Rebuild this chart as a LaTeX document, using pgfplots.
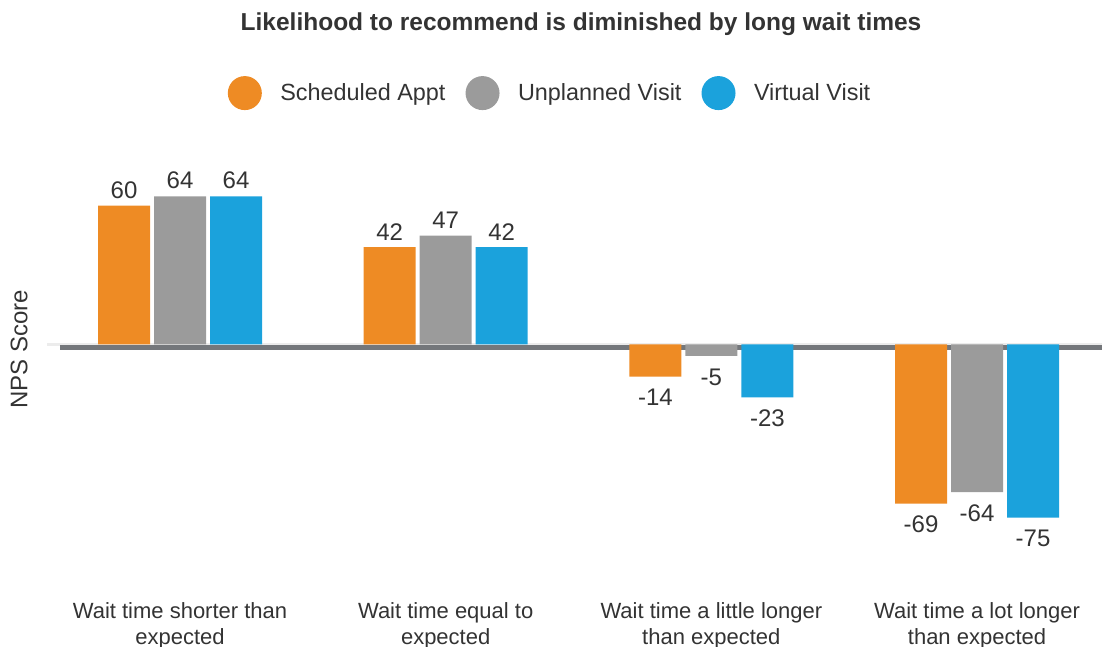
\documentclass[border=0pt]{standalone}
\usepackage{pgfplots}
\pgfplotsset{compat=1.18}
\usepackage{fontspec}
\setmainfont{Liberation Sans}
\definecolor{corange}{RGB}{238,139,36}
\definecolor{cgray}{RGB}{155,155,155}
\definecolor{cblue}{RGB}{27,162,220}
\definecolor{ctext}{RGB}{51,51,51}
\definecolor{cline}{RGB}{116,119,123}
\definecolor{clight}{RGB}{236,236,236}
\begin{document}
\begin{tikzpicture}
\begin{axis}[
  set layers,
  at={(60pt,62.5pt)}, anchor=south west,
  scale only axis, width=1042pt, height=443.5pt,
  xmin=-0.4517, xmax=3.4705, ymin=-104, ymax=88,
  ybar=4pt, bar width=52pt,
  legend image code/.code={\fill[#1] (0pt,0pt) circle (17pt); \path[fill=none, draw=none] (-17pt,-17pt) rectangle (35.5pt,17pt);},
  axis line style={draw=none},
  ytick=\empty,
  xtick={0,1,2,3},
  xticklabels={{Wait time shorter than\\expected},{Wait time equal to\\expected},{Wait time a little longer\\than expected},{Wait time a lot longer\\than expected}},
  xticklabel style={align=center, font=\fontsize{22}{26}\selectfont, text=ctext, yshift=-14.5pt},
  major tick length=0pt,
  nodes near coords,
  every node near coord/.append style={font=\fontsize{24}{28}\selectfont, text=ctext, inner ysep=7pt, text height=22pt},
  /pgf/number format/assume math mode=true,
  legend style={draw=none, fill=none, at={(0.4693,1.108)}, anchor=center, legend columns=3, font=\fontsize{23.4}{27}\selectfont, text=ctext, column sep=0pt, nodes={inner sep=0pt}, /tikz/every even column/.append style={column sep=20pt}},
  clip=false,
]
\begin{pgfonlayer}{axis background}
\draw[clight, line width=2.6pt] ([xshift=-13pt]axis cs:-0.4517,0) -- (axis cs:3.4705,0);
\draw[cline, line width=4.5pt] ([yshift=-3.4pt]axis cs:-0.4517,0) -- ([yshift=-3.4pt]axis cs:3.4705,0);
\end{pgfonlayer}
\addplot[fill=corange, draw=none] coordinates {(0,60) (1,42) (2,-14) (3,-69)};
\addplot[fill=cgray, draw=none] coordinates {(0,64) (1,47) (2,-5) (3,-64)};
\addplot[fill=cblue, draw=none] coordinates {(0,64) (1,42) (2,-23) (3,-75)};
\legend{Scheduled Appt, Unplanned Visit, Virtual Visit}
\end{axis}
\node[font=\bfseries\fontsize{24.5}{28}\selectfont, text=ctext, anchor=base] at (581pt,616pt) {Likelihood to recommend is diminished by long wait times};
\node[rotate=90, font=\fontsize{24}{28}\selectfont, text=ctext] at (19pt,298pt) {NPS Score};
\pgfresetboundingbox
\useasboundingbox (0pt,0pt) rectangle (1102pt,647pt);
\end{tikzpicture}
\end{document}
